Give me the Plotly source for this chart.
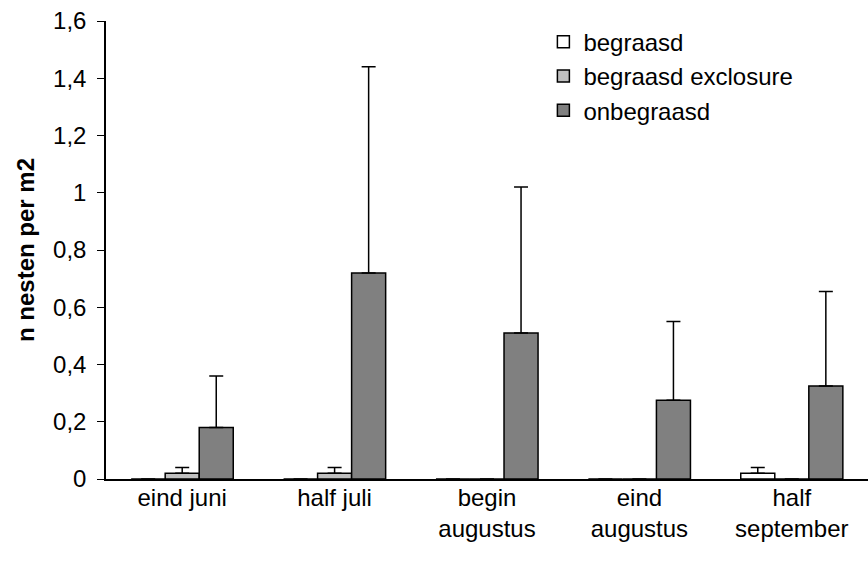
import plotly.graph_objects as go

periods = ["eind juni", "half juli", "begin<br>augustus", "eind<br>augustus", "half<br>september"]

begraasd = [0.0, 0.0, 0.0, 0.0, 0.02]
begraasd_err = [0.0, 0.0, 0.0, 0.0, 0.02]

exclosure = [0.02, 0.02, 0.0, 0.0, 0.0]
exclosure_err = [0.02, 0.02, 0.0, 0.0, 0.0]

onbegraasd = [0.18, 0.72, 0.51, 0.275, 0.325]
onbegraasd_err = [0.18, 0.72, 0.51, 0.275, 0.33]

y_ticks = [0, 0.2, 0.4, 0.6, 0.8, 1.0, 1.2, 1.4, 1.6]
y_tick_labels = ["0", "0,2", "0,4", "0,6", "0,8", "1", "1,2", "1,4", "1,6"]

series = [
    ("begraasd", begraasd, begraasd_err, "#FFFFFF"),
    ("begraasd exclosure", exclosure, exclosure_err, "#C0C0C0"),
    ("onbegraasd", onbegraasd, onbegraasd_err, "#808080"),
]

fig = go.Figure()
for name, vals, errs, color in series:
    fig.add_trace(go.Bar(
        name=name,
        x=periods,
        y=vals,
        marker=dict(color=color, line=dict(color="black", width=1.5)),
        error_y=dict(type="data", array=errs, symmetric=False,
                     arrayminus=[0] * len(errs),
                     color="black", thickness=1.5, width=7),
    ))

fig.update_layout(
    width=868, height=563,
    margin=dict(l=106, r=0, t=21, b=84),
    paper_bgcolor="white", plot_bgcolor="white",
    barmode="group", bargap=0.33, bargroupgap=0,
    font=dict(family="Liberation Sans, Arial, sans-serif", size=24, color="black"),
    showlegend=True,
    legend=dict(x=0.574, y=1.003, xanchor="left", yanchor="top",
                bgcolor="rgba(0,0,0,0)", font=dict(size=24),
                itemwidth=30, tracegroupgap=0),
    xaxis=dict(showline=True, linecolor="black", linewidth=1.5,
               ticks="", showgrid=False, tickfont=dict(size=24),
               ticklabelstandoff=-4),
    yaxis=dict(range=[0, 1.6], tickvals=y_ticks, ticktext=y_tick_labels,
               showline=True, linecolor="black", linewidth=1.5,
               ticks="outside", ticklen=7, tickwidth=1, tickcolor="black",
               ticklabelstandoff=6,
               showgrid=False, zeroline=False, tickfont=dict(size=24),
               title=dict(text="<b>n nesten per m2</b>", font=dict(size=24), standoff=12)),
)

fig.write_html("out.html")
